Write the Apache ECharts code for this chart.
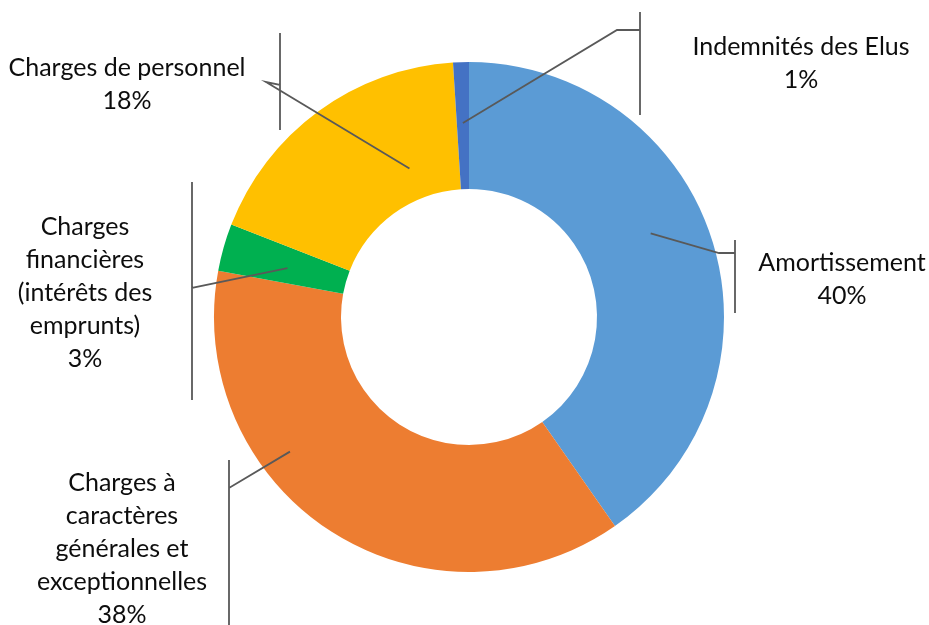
<!DOCTYPE html>
<html><head><meta charset="utf-8">
<script src="https://cdn.jsdelivr.net/npm/echarts@6/dist/echarts.min.js"></script>
<style>html,body{margin:0;padding:0;background:#fff}#c{width:929px;height:625px}</style>
</head><body><div id="c"></div>
<script>
const categories = ['Amortissement', 'Charges à caractères générales et exceptionnelles', 'Charges financières (intérêts des emprunts)', 'Charges de personnel', 'Indemnités des Elus'];
const labelTexts = ['Amortissement', 'Charges à\ncaractères\ngénérales et\nexceptionnelles', 'Charges\nfinancières\n(intérêts des\nemprunts)', 'Charges de personnel', 'Indemnités des Elus'];
const values = [40.3, 37.6, 3.0, 18.1, 1.0];
const colors = ['#5B9BD5', '#ED7D31', '#00B050', '#FFC000', '#4472C4'];

// presentation: label placement & leader-line geometry
const CENTER = [469, 317], R_IN = 128, R_OUT = 255;
const labelPlacement = [
  {cx: 842, cy: 279, t: 0.45, r: 200, elbow: [719, 253], join: [735, 253], bar: [735, 240, 313]},
  {cx: 122, cy: 549, t: 0.65, r: 224, elbow: [229, 488], join: [229, 488], bar: [229, 460, 625]},
  {cx: 85, cy: 293, t: 0.43, r: 188, elbow: [192, 288], join: [192, 288], bar: [192, 182, 400]},
  {cx: 127, cy: 84, t: 0.72, r: 160, elbow: [266, 82], join: [280, 85], bar: [280, 33, 130]},
  {cx: 801, cy: 63, t: 0.5, r: 194, elbow: [617, 30], join: [640, 30], bar: [640, 12, 115]}
];

const total = values.reduce((a, b) => a + b, 0);
function anchorPoint(i) {
  let cum = 0;
  for (let k = 0; k < i; k++) cum += values[k];
  const p = labelPlacement[i];
  const a = (cum + p.t * values[i]) / total * Math.PI * 2;
  return [CENTER[0] + p.r * Math.sin(a), CENTER[1] - p.r * Math.cos(a)];
}

const common = {
  type: 'pie',
  center: CENTER,
  radius: [R_IN, R_OUT],
  startAngle: 90,
  clockwise: true,
  avoidLabelOverlap: false,
  percentPrecision: 0,
  silent: true
};

const chart = echarts.init(document.getElementById('c'), null, {renderer: 'canvas'});
chart.setOption({
  animation: false,
  backgroundColor: '#ffffff',
  series: [
    Object.assign({}, common, {
      z: 2,
      data: categories.map((n, i) => ({name: n, value: values[i], itemStyle: {color: colors[i]}})),
      itemStyle: {borderWidth: 0},
      label: {show: false},
      labelLine: {show: false}
    }),
    Object.assign({}, common, {
      z: 5,
      data: categories.map((n, i) => ({name: n, value: values[i]})),
      itemStyle: {color: 'rgba(0,0,0,0)', borderWidth: 0},
      label: {
        show: true,
        position: 'outside',
        formatter: p => labelTexts[p.dataIndex] + '\n' + p.percent + '%',
        fontFamily: 'Lato',
        fontSize: 25,
        lineHeight: 33,
        color: '#0d0d0d',
        align: 'center'
      },
      labelLine: {show: true, length: 10, length2: 10, smooth: false, lineStyle: {color: '#595959', width: 1.8}},
      labelLayout: function (params) {
        const i = params.dataIndex;
        const p = labelPlacement[i];
        const a = anchorPoint(i);
        return {
          x: p.cx, y: p.cy, align: 'center', verticalAlign: 'middle',
          labelLinePoints: [a, p.elbow, p.join, [p.bar[0], p.bar[1]], [p.bar[0], p.bar[2]]]
        };
      }
    })
  ]
});
</script></body></html>
